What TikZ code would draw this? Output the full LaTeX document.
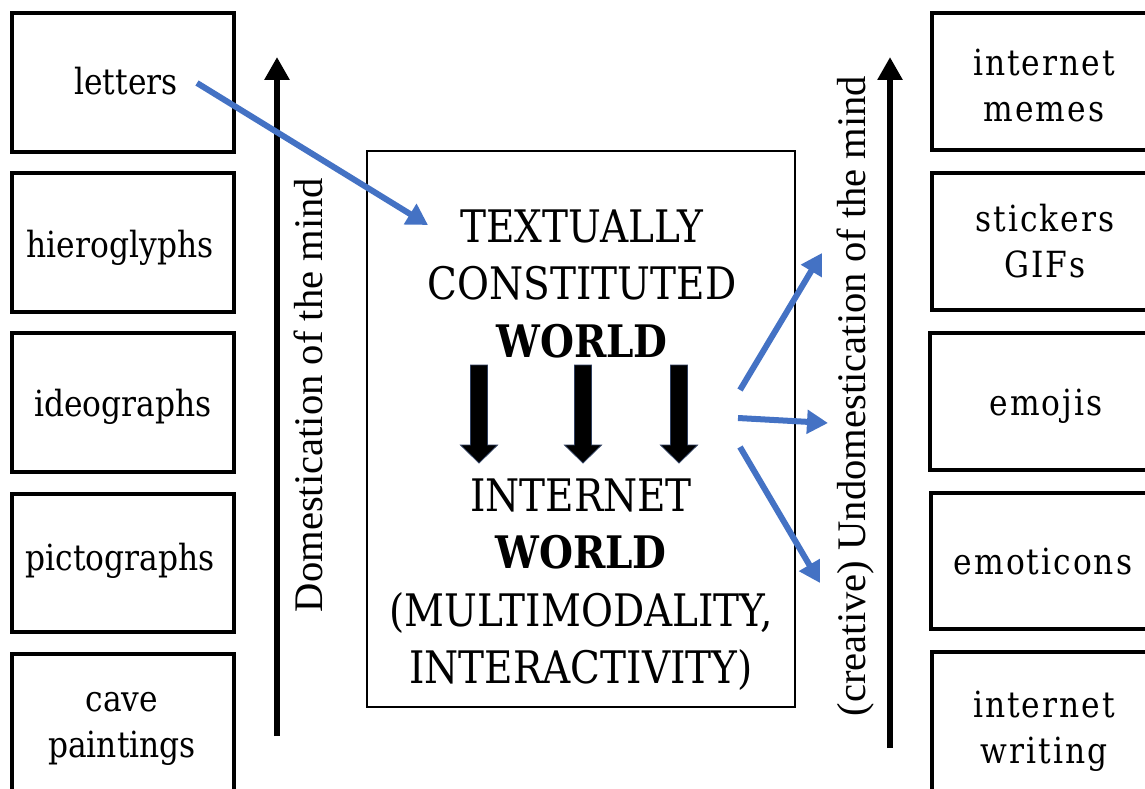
\documentclass[tikz,border=0pt]{standalone}
\usepackage{fontspec}
\setmainfont{DejaVu Serif}[FakeStretch=0.87]
\newfontfamily\spacedfont{DejaVu Serif}[FakeStretch=0.87, LetterSpace=5.5]
\newfontfamily\labelfont{Liberation Serif}
\usetikzlibrary{arrows.meta}
\definecolor{linkblue}{HTML}{4472C4}
\definecolor{shaftedge}{HTML}{2F3F5F}
\newcommand{\stack}[1]{\begin{tabular}[t]{@{}c@{}}#1\end{tabular}}
\tikzset{
  stage/.style={draw=black, line width=4pt},
  stagetext/.style={inner sep=0pt, anchor=base, font=\fontsize{36}{46}\selectfont},
  newtext/.style={inner sep=0pt, anchor=base, font=\spacedfont\fontsize{36}{46}\selectfont},
  worldtext/.style={inner sep=0pt, anchor=base, font=\fontsize{44.8}{57.5}\selectfont},
  axislabel/.style={inner sep=0pt, anchor=base, rotate=90, font=\labelfont\fontsize{40.6}{48}\selectfont},
  axis/.style={line width=6pt, -{Triangle[length=23pt,width=24pt]}},
  link/.style={draw=linkblue, line width=6pt, -{Triangle[length=21pt,width=23pt]}},
  blockarrow/.style={fill=black, draw=shaftedge, line width=0.8pt, line join=miter},
}
\begin{document}
\begin{tikzpicture}[x=1pt,y=-1pt]
\useasboundingbox (0,0) rectangle (1145,789);
\clip (0,0) rectangle (1145,789);

% left column: earlier writing systems
\draw[stage] (12,13) rectangle (234,152);
\draw[stage] (12,173) rectangle (234,312);
\draw[stage] (12,333) rectangle (234,472);
\draw[stage] (12,494) rectangle (234,632);
\draw[stage] (12,654) rectangle (234,800);
\node[stagetext] (letters) at (126,95) {letters};
\node[stagetext] (hiero) at (120,257) {hieroglyphs};
\node[stagetext] (ideo) at (123,416) {ideographs};
\node[stagetext] (picto) at (120,570) {pictographs};
\node[stagetext] (cave) at (122,711) {\stack{cave\\paintings}};

% right column: internet-era forms
\draw[stage] (932,13) rectangle (1160,150);
\draw[stage] (932,173) rectangle (1160,310);
\draw[stage] (930,333) rectangle (1160,470);
\draw[stage] (931,493) rectangle (1160,629);
\draw[stage] (932,652) rectangle (1160,800);
\node[newtext] (memes) at (1044,76) {\stack{internet\\memes}};
\node[newtext] (stickers) at (1045,231) {\stack{stickers\\GIFs}};
\node[newtext] (emojis) at (1046,415) {emojis};
\node[newtext] (emoticons) at (1043,574) {emoticons};
\node[newtext] (writing) at (1044,717) {\stack{internet\\writing}};

% vertical axes
\coordinate (lbot) at (277,736);
\coordinate (ltop) at (277,57);
\coordinate (rbot) at (890,748);
\coordinate (rtop) at (890,57);
\draw[axis] (lbot) -- (ltop);
\draw[axis] (rbot) -- (rtop);
\node[axislabel] (dom) at (322,395) {Domestication of the mind};
\node[axislabel] (undom) at (865,396) {(creative) Undomestication of the mind};

% central box
\draw[line width=2.5pt] (367,151) rectangle (795,707);
\node[worldtext] (textual) at (582,242) {\stack{TEXTUALLY\\CONSTITUTED\\\textbf{WORLD}}};
\node[worldtext] (internet) at (581,511) {\stack{INTERNET\\\textbf{WORLD}\\(MULTIMODALITY,\\INTERACTIVITY)}};

% three block arrows between the two worlds
\foreach \cx in {479, 583, 679}{
  \draw[blockarrow] (\cx-8.5,365) -- (\cx+8.5,365) -- (\cx+8.5,445) -- (\cx+18.5,445)
    -- (\cx,463) -- (\cx-18.5,445) -- (\cx-8.5,445) -- cycle;
}

% blue links
\coordinate (lstart) at (197,83);
\coordinate (lend) at (428,225);
\draw[link] (lstart) -- (lend);
\coordinate (r1s) at (740,390);
\coordinate (r1e) at (822,253);
\coordinate (r2s) at (738,418);
\coordinate (r2e) at (828,423);
\coordinate (r3s) at (740,447);
\coordinate (r3e) at (820,583);
\draw[link] (r1s) -- (r1e);
\draw[link] (r2s) -- (r2e);
\draw[link] (r3s) -- (r3e);
\end{tikzpicture}
\end{document}
